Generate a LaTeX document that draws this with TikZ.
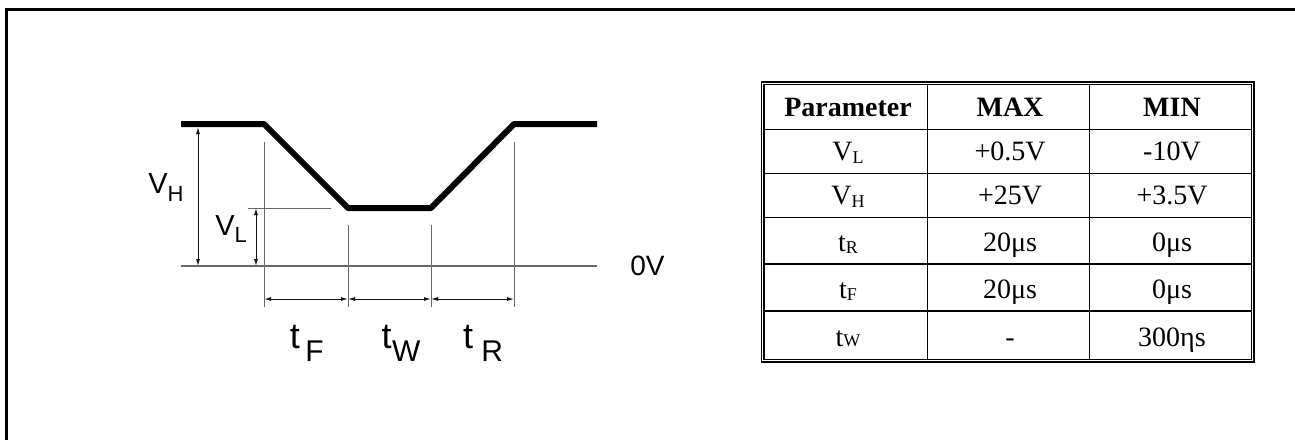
\documentclass[tikz,border=0pt]{standalone}
\usepackage{fontspec}
\setmainfont{Liberation Serif}
\setsansfont{Liberation Sans}
\usetikzlibrary{positioning, calc, arrows.meta}
\definecolor{clTrace}{RGB}{  0,  0,  0}
\definecolor{clGuide}{RGB}{105,105,105}
\definecolor{clInk}  {RGB}{ 20, 20, 20}
%% label helpers
\newcommand{\vLbl}[1]{{\fontsize{14.5}{16}\selectfont V}\raisebox{-3.85pt}{\fontsize{11}{12}\selectfont #1}}
\newcommand{\tLbl}[2]{{\fontsize{18}{20}\selectfont t}\hspace{#1}\raisebox{-6.7pt}{\fontsize{15}{17}\selectfont #2}}
\newcommand{\tabSub}[2]{\raisebox{#1}{\fontsize{9}{10}\selectfont #2}}
\tikzset{
  %% outer page frame
  frameLine/.style={line width=1.65pt, draw=black},
  %% thick signal trace
  trace/.style={line width=3pt, draw=clTrace, line join=bevel},
  %% thin grey guide lines
  guide/.style={line width=0.65pt, draw=clGuide},
  extLine/.style={line width=0.5pt, draw=clGuide},
  %% dimension arrows
  dimArr/.style={
    {Latex[length=3.5pt, width=2pt]}-{Latex[length=3.5pt, width=2pt]},
    line width=0.5pt, color=clInk
  },
  sansLbl/.style={font=\sffamily, inner sep=0pt, anchor=base west},
  %% table
  tabBorder/.style={line width=0.55pt, draw=black},
  tabGrid/.style={line width=0.65pt, draw=black},
  tabCell/.style={font=\fontsize{14}{16}\selectfont, inner sep=0pt, anchor=base}
}
\begin{document}
\begin{tikzpicture}[x=0.5pt, y=-0.5pt]
\useasboundingbox (0,0) rectangle (1295,439);

%% ═══════════════════════════════════════════════════════════════
%%  FRAME
%% ═══════════════════════════════════════════════════════════════

\coordinate (frBot) at (6.2,450);
\coordinate (frTop) at (1305,9.7);
\draw[frameLine] (frBot) |- (frTop);

%% ═══════════════════════════════════════════════════════════════
%%  WAVEFORM
%% ═══════════════════════════════════════════════════════════════

\coordinate (hiL)   at (181,124);
\coordinate (fallS) at (264,124);
\coordinate (fallE) at (348,208);
\coordinate (riseS) at (431,208);
\coordinate (riseE) at (514,124);
\coordinate (hiR)   at (597,124);
\coordinate (zeroL) at (181,266);
\coordinate (zeroR) at (597,266);

\draw[guide] (zeroL) -- (zeroR);
\draw[trace] (hiL) -- (fallS) -- (fallE) -- (riseS) -- (riseE) -- (hiR);

\node[sansLbl, font=\sffamily\fontsize{14}{16}\selectfont] (lblZero) at (630,275.7) {0V};

%% V_H and V_L
\coordinate (vhTop) at (198,127);
\coordinate (vhBot) at (198,266);
\draw[dimArr] (vhTop) -- (vhBot);
\node[sansLbl] (lblVH) at (148,193.3) {\vLbl{H}};

\coordinate (vlRef) at (248,208);
\coordinate (vlEnd) at (331,208);
\draw[extLine] (vlRef) -- (vlEnd);
\coordinate (vlTop) at (256,208);
\coordinate (vlBot) at (256,266);
\draw[dimArr] (vlTop) -- (vlBot);
\node[sansLbl] (lblVL) at (215,235) {\vLbl{L}};

%% extension lines + time dimensions
\foreach \x/\ytop/\nm in {264/142/A, 348/225/B, 431/225/C, 514/142/D}{
  \coordinate (ext\nm) at (\x,\ytop);
  \coordinate (dim\nm) at (\x,299);
  \coordinate (end\nm) at (\x,307);
  \draw[extLine] (ext\nm) -- (end\nm);
}
\draw[dimArr] (dimA) -- (dimB);
\draw[dimArr] (dimB) -- (dimC);
\draw[dimArr] (dimC) -- (dimD);

\node[sansLbl] (lblTF) at (289.4,348.3) {\tLbl{2.75pt}{F}};
\node[sansLbl] (lblTW) at (381.1,348.3) {\tLbl{0.3pt}{W}};
\node[sansLbl] (lblTR) at (462.7,348.3) {\tLbl{4.1pt}{R}};

%% ═══════════════════════════════════════════════════════════════
%%  PARAMETER TABLE
%% ═══════════════════════════════════════════════════════════════

\draw[tabBorder] (761.3,82) rectangle (1254,362);
\draw[tabBorder] (764,84.7) rectangle (1251.3,359.3);
\foreach \y in {129.3, 173.3, 217.3, 264, 311}
  \draw[tabGrid] (764,\y) -- (1251.3,\y);
\foreach \x in {927.3, 1089.3}
  \draw[tabGrid] (\x,84.7) -- (\x,359.3);

\foreach \yb/\pname/\mx/\mn [count=\i] in {
  129.3/{\textbf{Parameter}}/{\textbf{MAX}}/{\textbf{MIN}},
  173.3/{V\tabSub{-1.5pt}{L}}/{+0.5V}/{-10V},
  217.3/{V\tabSub{-1.5pt}{H}}/{+25V}/{+3.5V},
  264/{t\tabSub{-1pt}{R}}/{20μs}/{0μs},
  311/{t\tabSub{-1pt}{F}}/{20μs}/{0μs},
  359.3/{t\tabSub{0pt}{W}}/{-}/{300ηs}
}{
  \node[tabCell] (par\i) at (848,\yb-12.7)  {\pname};
  \node[tabCell] (max\i) at (1010,\yb-12.7) {\mx};
  \node[tabCell] (min\i) at (1172,\yb-12.7) {\mn};
}

\end{tikzpicture}
\end{document}
